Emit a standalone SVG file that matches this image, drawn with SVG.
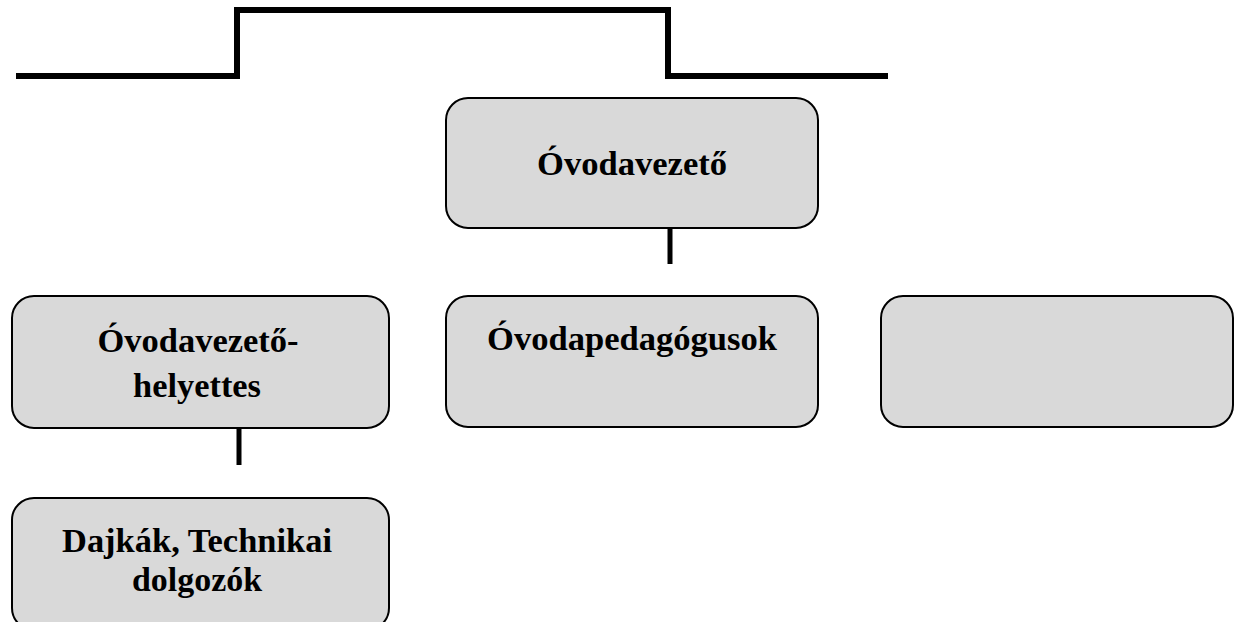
<svg xmlns="http://www.w3.org/2000/svg" width="1236" height="622" viewBox="0 0 1236 622">
<style>
.box{fill:#d9d9d9;stroke:#000;stroke-width:2}
.lbl{font-family:"Liberation Serif","Times New Roman",serif;font-weight:bold;font-size:34px;fill:#000;text-anchor:middle}
.con{fill:none;stroke:#000;stroke-linejoin:miter;stroke-linecap:butt}
</style>
<rect width="1236" height="622" fill="#fff"/>
<g id="connectors">
<polyline class="con" stroke-width="6" points="16,76 237,76 237,10 668,10 668,76 888,76"/>
<line class="con" stroke-width="5" x1="670" y1="229" x2="670" y2="264"/>
<line class="con" stroke-width="5" x1="239" y1="429" x2="239" y2="465"/>
</g>
<g id="n-ovodavezeto">
<rect class="box" x="446" y="98" width="372" height="130" rx="22"/>
<text class="lbl" x="632" y="175" textLength="190" lengthAdjust="spacingAndGlyphs">Óvodavezető</text>
</g>
<g id="n-helyettes">
<rect class="box" x="12" y="296" width="377" height="132" rx="22"/>
<text class="lbl" x="198" y="352" textLength="201" lengthAdjust="spacingAndGlyphs">Óvodavezető-</text>
<text class="lbl" x="197" y="397" textLength="128" lengthAdjust="spacingAndGlyphs">helyettes</text>
</g>
<g id="n-pedagogusok">
<rect class="box" x="446" y="296" width="372" height="131" rx="22"/>
<text class="lbl" x="632" y="350" textLength="290" lengthAdjust="spacingAndGlyphs">Óvodapedagógusok</text>
</g>
<g id="n-empty">
<rect class="box" x="881" y="296" width="352" height="131" rx="22"/>
</g>
<g id="n-dajkak">
<rect class="box" x="12" y="498" width="377" height="132" rx="22"/>
<text class="lbl" x="197" y="552" textLength="270" lengthAdjust="spacingAndGlyphs">Dajkák, Technikai</text>
<text class="lbl" x="197" y="591" textLength="130" lengthAdjust="spacingAndGlyphs">dolgozók</text>
</g>
</svg>
